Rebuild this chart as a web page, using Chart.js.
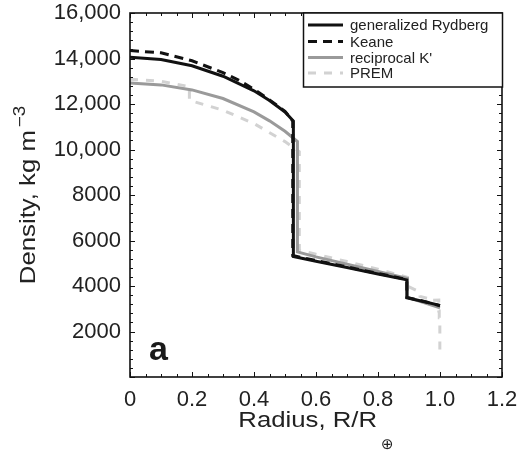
<!DOCTYPE html>
<html>
<head>
<meta charset="utf-8">
<script src="https://cdn.jsdelivr.net/npm/chart.js@4"></script>
<style>
  html, body { margin: 0; padding: 0; background: #fff; }
  #wrap { width: 522px; height: 456px; }
</style>
</head>
<body>
<div id="wrap"><canvas id="densityChart" width="522" height="456"></canvas></div>
<script>
// radius (R/R_earth) and density (kg m-3)
const rydbergR   = [0, 0.1, 0.2, 0.3, 0.4, 0.45, 0.5, 0.527, 0.527, 0.6, 0.7, 0.8, 0.893, 0.893, 0.95, 1.0];
const rydbergRho = [14050, 13960, 13680, 13220, 12580, 12150, 11650, 11250, 5300, 5090, 4810, 4530, 4270, 3480, 3310, 3150];

const keaneR   = [0, 0.1, 0.2, 0.3, 0.35, 0.4, 0.45, 0.5, 0.525, 0.525, 0.6, 0.7, 0.8, 0.893, 0.893, 0.95, 1.0];
const keaneRho = [14350, 14250, 13900, 13380, 13050, 12650, 12180, 11680, 11250, 5340, 5120, 4840, 4550, 4290, 3500, 3320, 3130];

const recipR   = [0, 0.1, 0.2, 0.3, 0.4, 0.45, 0.5, 0.54, 0.54, 0.6, 0.7, 0.8, 0.895, 0.895, 0.95, 1.0];
const recipRho = [12920, 12840, 12620, 12240, 11650, 11260, 10800, 10350, 5500, 5280, 4960, 4640, 4330, 3500, 3260, 3040];

const premR   = [0, 0.1, 0.1916, 0.1916, 0.3, 0.4, 0.5, 0.5462, 0.5462, 0.6, 0.7, 0.8, 0.8952, 0.8952, 0.9356, 0.9356, 0.9655, 0.9655, 0.9961, 0.9961, 0.9976, 0.9976, 0.9995, 0.9995, 1.0];
const premRho = [13088, 13000, 12764, 12166, 11725, 11139, 10348, 9904, 5566, 5396, 5075, 4736, 4380, 3992, 3724, 3543, 3436, 3360, 3381, 2900, 2900, 2600, 2600, 1020, 1020];

const xTicks = [0, 0.2, 0.4, 0.6, 0.8, 1.0, 1.2];
const yTicks = [2000, 4000, 6000, 8000, 10000, 12000, 14000, 16000];

const FONT = '"Liberation Sans", Arial, Helvetica, sans-serif';

function toPoints(xs, ys) {
    return xs.map((x, i) => ({ x: x, y: ys[i] }));
}

// inward ticks on all four sides + frame
const frameTicks = {
    id: 'frameTicks',
    afterDatasetsDraw(chart) {
        const ctx = chart.ctx;
        const a = chart.chartArea;
        const xs = chart.scales.x;
        const ys = chart.scales.y;
        ctx.save();
        ctx.strokeStyle = '#111';
        ctx.lineWidth = 1;
        ctx.beginPath();
        for (let v = 0; v <= 1.2001; v += 0.05) {
            const major = Math.abs(v / 0.2 - Math.round(v / 0.2)) < 1e-6;
            const len = major ? 5 : 3;
            const px = Math.round(xs.getPixelForValue(v)) + 0.5;
            ctx.moveTo(px, a.bottom); ctx.lineTo(px, a.bottom - len);
            ctx.moveTo(px, a.top); ctx.lineTo(px, a.top + len);
        }
        for (let v = 0; v <= 16000; v += 400) {
            const major = v % 2000 === 0;
            const len = major ? 5 : 3;
            const py = Math.round(ys.getPixelForValue(v)) + 0.5;
            ctx.moveTo(a.left, py); ctx.lineTo(a.left + len, py);
            ctx.moveTo(a.right, py); ctx.lineTo(a.right - len, py);
        }
        ctx.stroke();
        ctx.lineWidth = 1.6;
        ctx.strokeRect(a.left, a.top, a.right - a.left, a.bottom - a.top);
        ctx.restore();
    }
};

// boxed legend in the top right corner
const boxLegend = {
    id: 'boxLegend',
    afterDraw(chart) {
        const ctx = chart.ctx;
        const a = chart.chartArea;
        const left = 303, top = a.top, right = a.right, bottom = 87;
        ctx.save();
        ctx.fillStyle = '#fff';
        ctx.fillRect(left, top, right - left, bottom - top);
        ctx.strokeStyle = '#111';
        ctx.lineWidth = 1.5;
        ctx.strokeRect(left + 0.5, top, right - left, bottom - top);
        ctx.font = '15px ' + FONT;
        ctx.textBaseline = 'middle';
        const rows = [25, 41.5, 57.5, 73];
        chart.data.datasets.forEach((ds, i) => {
            const y = rows[i];
            ctx.strokeStyle = ds.borderColor;
            ctx.lineWidth = ds.borderWidth;
            ctx.setLineDash(ds.borderDash || []);
            ctx.beginPath();
            ctx.moveTo(308, y); ctx.lineTo(343, y);
            ctx.stroke();
            ctx.setLineDash([]);
            ctx.fillStyle = '#222';
            ctx.fillText(ds.label, 350, y + 1);
        });
        ctx.restore();
    }
};

// draw text stretched horizontally (the original face is wider than Arial)
function wideText(ctx, txt, x, y, sx) {
    ctx.save();
    ctx.translate(x, y);
    ctx.scale(sx, 1);
    ctx.fillText(txt, 0, 0);
    ctx.restore();
    return ctx.measureText(txt).width * sx;
}

// axis titles with sub/superscripts and the panel letter
const annotations = {
    id: 'annotations',
    afterDraw(chart) {
        const ctx = chart.ctx;
        const a = chart.chartArea;
        const SX = 1.17;
        ctx.save();
        ctx.fillStyle = '#222';
        ctx.textBaseline = 'alphabetic';

        // x title: Radius, R/R⊕
        const main = 'Radius, R/R';
        ctx.font = '22px ' + FONT;
        const wMain = ctx.measureText(main).width * SX;
        ctx.font = '15px "DejaVu Sans", sans-serif';
        const wSub = ctx.measureText('\u2295').width;
        const x0 = (a.left + a.right) / 2 - (wMain + wSub + 4) / 2;
        ctx.font = '22px ' + FONT;
        wideText(ctx, main, x0, 427, SX);
        ctx.font = '15px "DejaVu Sans", sans-serif';
        ctx.fillText('\u2295', x0 + wMain + 4, 449);

        // y title: Density, kg m−3
        ctx.translate(35, (a.top + a.bottom) / 2);
        ctx.rotate(-Math.PI / 2);
        const yMain = 'Density, kg m';
        ctx.font = '22px ' + FONT;
        const wy = ctx.measureText(yMain).width * SX;
        ctx.font = '16px ' + FONT;
        const wSup = ctx.measureText('\u22123').width * SX;
        const y0 = -(wy + wSup + 3) / 2;
        ctx.font = '22px ' + FONT;
        wideText(ctx, yMain, y0, 0, SX);
        ctx.font = '16px ' + FONT;
        wideText(ctx, '\u22123', y0 + wy + 3, -10, SX);
        ctx.restore();

        ctx.save();
        ctx.fillStyle = '#1a1a1a';
        ctx.font = 'bold 34px ' + FONT;
        ctx.fillText('a', 149, 360);
        ctx.restore();
    }
};

new Chart(document.getElementById('densityChart'), {
    type: 'scatter',
    data: {
        datasets: [
            {
                label: 'generalized Rydberg',
                data: toPoints(rydbergR, rydbergRho),
                borderColor: '#111111',
                borderWidth: 3,
                showLine: true,
                pointRadius: 0,
                tension: 0
            },
            {
                label: 'Keane',
                data: toPoints(keaneR, keaneRho),
                borderColor: '#111111',
                borderWidth: 3,
                borderDash: [9, 6],
                showLine: true,
                pointRadius: 0,
                tension: 0
            },
            {
                label: 'reciprocal K\'',
                data: toPoints(recipR, recipRho),
                borderColor: '#9a9a9a',
                borderWidth: 3,
                showLine: true,
                pointRadius: 0,
                tension: 0
            },
            {
                label: 'PREM',
                data: toPoints(premR, premRho),
                borderColor: '#d2d2d2',
                borderWidth: 3,
                borderDash: [8, 8],
                showLine: true,
                pointRadius: 0,
                tension: 0
            }
        ]
    },
    options: {
        responsive: false,
        animation: false,
        layout: { padding: { top: 13, right: 20, left: 0, bottom: 0 } },
        plugins: {
            legend: { display: false },
            tooltip: { enabled: false }
        },
        scales: {
            x: {
                type: 'linear',
                min: 0,
                max: 1.2,
                afterBuildTicks: s => { s.ticks = xTicks.map(v => ({ value: v })); },
                afterFit: s => {
                    s.height = 79;
                    s.paddingLeft = 0; s.paddingRight = 0;
                },
                grid: { display: false, drawTicks: false },
                border: { display: false },
                ticks: {
                    padding: 10,
                    color: '#222',
                    font: { family: FONT, size: 22 },
                    callback: v => v === 0 ? '0' : v.toFixed(1)
                }
            },
            y: {
                type: 'linear',
                min: 0,
                max: 16000,
                afterBuildTicks: s => { s.ticks = yTicks.map(v => ({ value: v })); },
                afterFit: s => {
                    s.width = 130;
                    s.paddingTop = 0; s.paddingBottom = 0;
                },
                grid: { display: false, drawTicks: false },
                border: { display: false },
                ticks: {
                    padding: 9,
                    color: '#222',
                    font: { family: FONT, size: 22 },
                    callback: v => v >= 10000 ? v.toLocaleString('en-US') : String(v)
                }
            }
        }
    },
    plugins: [frameTicks, boxLegend, annotations]
});
</script>
</body>
</html>
